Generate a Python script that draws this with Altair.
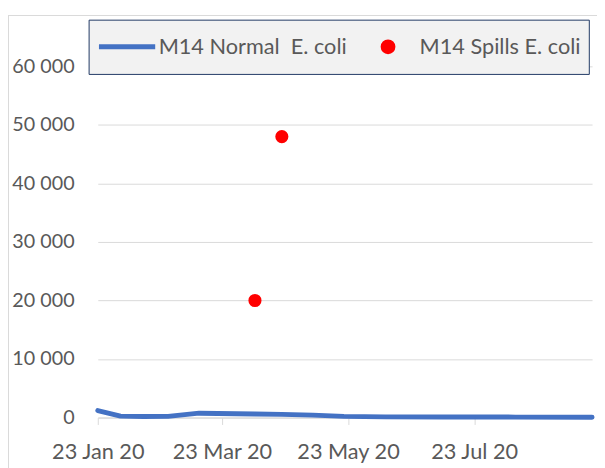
import altair as alt
import pandas as pd

# ---- data ----
line_dates = ["2020-01-23", "2020-02-03", "2020-02-14", "2020-02-26", "2020-03-12",
              "2020-04-08", "2020-04-21", "2020-05-06", "2020-05-21", "2020-06-10",
              "2020-07-08", "2020-08-12", "2020-09-18"]
line_values = [1200, 250, 180, 200, 750, 620, 550, 420, 200, 120, 100, 80, 60]

spill_dates = ["2020-04-08", "2020-04-21"]
spill_values = [20000, 48000]

series_names = ["M14 Normal\u00a0 E. coli", "M14 Spills E. coli"]
series_colors = ["#4472c4", "#ff0000"]

x_tick_dates = [(2020, 1, 23), (2020, 3, 23), (2020, 5, 23), (2020, 7, 23)]
x_domain = [(2020, 1, 23), (2020, 9, 18)]
y_ticks = [0, 10000, 20000, 30000, 40000, 50000, 60000]

FONT = "Lato"
TXT = "#595959"
GRID = "#d9d9d9"
W, H = 501, 356

line_df = pd.DataFrame({"date": pd.to_datetime(line_dates), "value": line_values,
                        "series": series_names[0]})
spill_df = pd.DataFrame({"date": pd.to_datetime(spill_dates), "value": spill_values,
                         "series": series_names[1]})

def dt(t):
    return alt.DateTime(year=t[0], month=t[1], date=t[2])

# small circle drawn as a custom path inside a 57px legend symbol cell
r = 0.175
circle_path = f"M {-r} 0 A {r} {r} 0 1 0 {r} 0 A {r} {r} 0 1 0 {-r} 0 Z"
cond = "datum.value === 'M14 Spills E. coli'"
legend = alt.Legend(
    title=None, orient="none", legendX=-9.3, legendY=-47.3, direction="horizontal",
    columns=2, clipHeight=39, padding=8, fillColor="#f2f2f2", strokeColor="#203864",
    labelFont=FONT, labelFontSize=22, labelColor=TXT, labelOffset=1, columnPadding=10.5,
    labelLimit=400, symbolOffset=0, symbolOpacity=1,
    symbolSize=3249, symbolStrokeWidth=5,
    symbolType={"expr": f"{cond} ? '{circle_path}' : 'stroke'"},
    symbolStrokeColor={"expr": f"{cond} ? '#ff0000' : '#4472c4'"},
    symbolFillColor={"expr": f"{cond} ? '#ff0000' : 'transparent'"},
)

color = alt.Color("series:N", scale=alt.Scale(domain=series_names, range=series_colors),
                  legend=legend)

x_enc = alt.X("date:T", title=None,
              scale=alt.Scale(domain=[dt(d) for d in x_domain]),
              axis=alt.Axis(values=[dt(d) for d in x_tick_dates], format="%d %b %y",
                            grid=False, tickColor=GRID, tickSize=7, domainColor=GRID,
                            labelFont=FONT, labelFontSize=22, labelColor=TXT,
                            labelPadding=17, labelFlush=False))
y_enc = alt.Y("value:Q", title=None,
              scale=alt.Scale(domain=[0, 60000], nice=False),
              axis=alt.Axis(values=y_ticks, grid=True, gridColor=GRID, domain=False,
                            ticks=False, labelFont=FONT, labelFontSize=20, labelColor=TXT,
                            labelPadding=24,
                            labelExpr="replace(format(datum.value, ','), ',', ' ')"))

line = alt.Chart(line_df).mark_line(strokeWidth=5, strokeCap="round", strokeJoin="round").encode(
    x=x_enc, y=y_enc, color=color)
points = alt.Chart(spill_df).mark_circle(size=177, opacity=1).encode(
    x=x_enc, y=y_enc, color=color)

frame_df = pd.DataFrame({"k": [0]})
frame_left = alt.Chart(frame_df).mark_rule(color=GRID, strokeWidth=1).encode(
    x=alt.value(-90.5), y=alt.value(-51), y2=alt.value(H + 60))
frame_top = alt.Chart(frame_df).mark_rule(color=GRID, strokeWidth=1).encode(
    x=alt.value(-91), x2=alt.value(W + 10), y=alt.value(-51.5))

chart = alt.layer(frame_left, frame_top, line, points).properties(
    width=W, height=H,
    autosize=alt.AutoSizeParams(type="none"),
    padding={"left": 91, "top": 56, "right": 5, "bottom": 48},
).configure_view(stroke="transparent")

chart.save("out.html", embed_options={"renderer": "svg", "actions": False})
